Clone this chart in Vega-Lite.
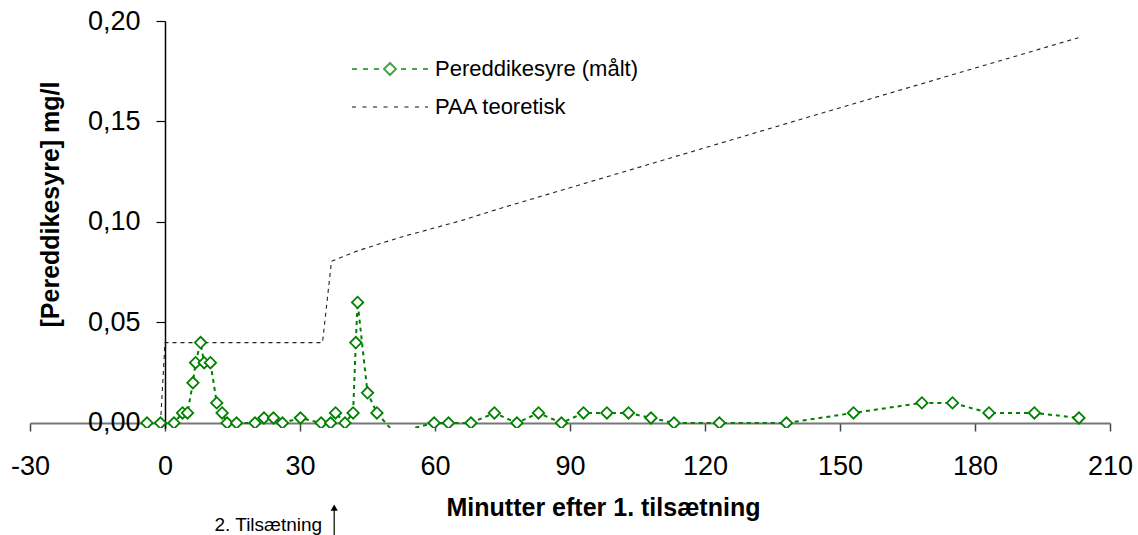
{
  "$schema": "https://vega.github.io/schema/vega-lite/v6.json",
  "width": 1080,
  "height": 407,
  "autosize": {"type": "none"},
  "padding": {"left": 30, "top": 21, "right": 28, "bottom": 107},
  "background": "white",
  "config": {
    "view": {"stroke": null},
    "font": "Liberation Sans",
    "axis": {"grid": false}
  },
  "datasets": {
    "maalinger": [
      {"serie": "Pereddikesyre (målt)", "minutter": -4, "konc": 0},
      {"serie": "Pereddikesyre (målt)", "minutter": -1, "konc": 0},
      {"serie": "Pereddikesyre (målt)", "minutter": 2, "konc": 0},
      {"serie": "Pereddikesyre (målt)", "minutter": 3.9, "konc": 0.005},
      {"serie": "Pereddikesyre (målt)", "minutter": 5, "konc": 0.005},
      {"serie": "Pereddikesyre (målt)", "minutter": 6.2, "konc": 0.02},
      {"serie": "Pereddikesyre (målt)", "minutter": 6.8, "konc": 0.03},
      {"serie": "Pereddikesyre (målt)", "minutter": 7.9, "konc": 0.04},
      {"serie": "Pereddikesyre (målt)", "minutter": 8.7, "konc": 0.03},
      {"serie": "Pereddikesyre (målt)", "minutter": 10.1, "konc": 0.03},
      {"serie": "Pereddikesyre (målt)", "minutter": 11.5, "konc": 0.01},
      {"serie": "Pereddikesyre (målt)", "minutter": 12.7, "konc": 0.005},
      {"serie": "Pereddikesyre (målt)", "minutter": 13.8, "konc": 0},
      {"serie": "Pereddikesyre (målt)", "minutter": 15.9, "konc": 0},
      {"serie": "Pereddikesyre (målt)", "minutter": 20, "konc": 0},
      {"serie": "Pereddikesyre (målt)", "minutter": 22, "konc": 0.0025},
      {"serie": "Pereddikesyre (målt)", "minutter": 24.1, "konc": 0.0025},
      {"serie": "Pereddikesyre (målt)", "minutter": 26.1, "konc": 0},
      {"serie": "Pereddikesyre (målt)", "minutter": 30.1, "konc": 0.0025},
      {"serie": "Pereddikesyre (målt)", "minutter": 34.7, "konc": 0},
      {"serie": "Pereddikesyre (målt)", "minutter": 36.8, "konc": 0},
      {"serie": "Pereddikesyre (målt)", "minutter": 37.9, "konc": 0.005},
      {"serie": "Pereddikesyre (målt)", "minutter": 40, "konc": 0},
      {"serie": "Pereddikesyre (målt)", "minutter": 41.8, "konc": 0.005},
      {"serie": "Pereddikesyre (målt)", "minutter": 42.4, "konc": 0.04},
      {"serie": "Pereddikesyre (målt)", "minutter": 42.8, "konc": 0.06},
      {"serie": "Pereddikesyre (målt)", "minutter": 45, "konc": 0.015},
      {"serie": "Pereddikesyre (målt)", "minutter": 47.1, "konc": 0.005},
      {"serie": "Pereddikesyre (målt)", "minutter": 51, "konc": -0.005},
      {"serie": "Pereddikesyre (målt)", "minutter": 59.8, "konc": 0},
      {"serie": "Pereddikesyre (målt)", "minutter": 63, "konc": 0},
      {"serie": "Pereddikesyre (målt)", "minutter": 68, "konc": 0},
      {"serie": "Pereddikesyre (målt)", "minutter": 73.2, "konc": 0.005},
      {"serie": "Pereddikesyre (målt)", "minutter": 78.2, "konc": 0},
      {"serie": "Pereddikesyre (målt)", "minutter": 83, "konc": 0.005},
      {"serie": "Pereddikesyre (målt)", "minutter": 88.1, "konc": 0},
      {"serie": "Pereddikesyre (målt)", "minutter": 93, "konc": 0.005},
      {"serie": "Pereddikesyre (målt)", "minutter": 98.2, "konc": 0.005},
      {"serie": "Pereddikesyre (målt)", "minutter": 103, "konc": 0.005},
      {"serie": "Pereddikesyre (målt)", "minutter": 108, "konc": 0.0025},
      {"serie": "Pereddikesyre (målt)", "minutter": 113.1, "konc": 0},
      {"serie": "Pereddikesyre (målt)", "minutter": 123.2, "konc": 0},
      {"serie": "Pereddikesyre (målt)", "minutter": 138.1, "konc": 0},
      {"serie": "Pereddikesyre (målt)", "minutter": 153, "konc": 0.005},
      {"serie": "Pereddikesyre (målt)", "minutter": 168.2, "konc": 0.01},
      {"serie": "Pereddikesyre (målt)", "minutter": 175, "konc": 0.01},
      {"serie": "Pereddikesyre (målt)", "minutter": 183.1, "konc": 0.005},
      {"serie": "Pereddikesyre (målt)", "minutter": 193.2, "konc": 0.005},
      {"serie": "Pereddikesyre (målt)", "minutter": 203.1, "konc": 0.0025},
      {"serie": "PAA teoretisk", "minutter": -1, "konc": 0},
      {"serie": "PAA teoretisk", "minutter": 0, "konc": 0.04},
      {"serie": "PAA teoretisk", "minutter": 35, "konc": 0.04},
      {"serie": "PAA teoretisk", "minutter": 37, "konc": 0.0805},
      {"serie": "PAA teoretisk", "minutter": 43, "konc": 0.0858},
      {"serie": "PAA teoretisk", "minutter": 52, "konc": 0.0922},
      {"serie": "PAA teoretisk", "minutter": 66, "konc": 0.1008},
      {"serie": "PAA teoretisk", "minutter": 75, "konc": 0.1071},
      {"serie": "PAA teoretisk", "minutter": 118, "konc": 0.1356},
      {"serie": "PAA teoretisk", "minutter": 141, "konc": 0.1509},
      {"serie": "PAA teoretisk", "minutter": 203, "konc": 0.1917}
    ],
    "tilsaetning": [
      {"hendelse": "2. Tilsætning", "minutter": 37.6}
    ]
  },
  "data": {"name": "maalinger"},
  "layer": [
    {
      "transform": [{"filter": "datum.serie === 'PAA teoretisk'"}],
      "mark": {"type": "line", "stroke": "#222222", "strokeWidth": 1.1, "strokeDash": [4, 4], "clip": true},
      "encoding": {
        "x": {
          "field": "minutter", "type": "quantitative",
          "scale": {"domain": [-30, 210], "nice": false, "zero": false},
          "axis": {
            "values": [-30, 0, 30, 60, 90, 120, 150, 180, 210],
            "offset": -5,
            "domainColor": "#777777", "domainWidth": 2,
            "tickColor": "#444444", "tickSize": 8, "tickWidth": 1.5,
            "labelFontSize": 27, "labelColor": "black", "labelPadding": 22,
            "labelFlush": false, "labelOverlap": false,
            "labelExpr": "(datum.value < 0 ? '-' : '') + format(abs(datum.value), 'd')",
            "title": "Minutter efter 1. tilsætning",
            "titleFontSize": 25, "titleFontWeight": "bold", "titleColor": "black",
            "titleX": 573, "titleY": 84, "titleBaseline": "middle", "titleAlign": "center"
          }
        },
        "y": {
          "field": "konc", "type": "quantitative",
          "scale": {"domain": [-0.0025, 0.2], "nice": false, "zero": false},
          "axis": {
            "values": [0, 0.05, 0.1, 0.15, 0.2],
            "offset": -135,
            "domainColor": "black", "domainWidth": 1.5,
            "tickColor": "black", "tickSize": 9, "tickWidth": 1.2,
            "labelFontSize": 27, "labelColor": "black", "labelPadding": 16,
            "labelFlush": false, "labelOverlap": false,
            "labelExpr": "replace(format(datum.value, '.2f'), '.', ',')",
            "title": "[Pereddikesyre] mg/l",
            "titleFontSize": 25, "titleFontWeight": "bold", "titleColor": "black",
            "titleX": -115, "titleY": 183, "titleBaseline": "middle", "titleAlign": "center", "titleAngle": -90
          }
        }
      }
    },
    {
      "transform": [{"filter": "datum.serie === 'Pereddikesyre (målt)'"}],
      "mark": {"type": "line", "stroke": "#008000", "strokeWidth": 2, "strokeDash": [4, 4], "clip": true},
      "encoding": {
        "x": {"field": "minutter", "type": "quantitative", "scale": {"domain": [-30, 210], "nice": false, "zero": false}},
        "y": {"field": "konc", "type": "quantitative", "scale": {"domain": [-0.0025, 0.2], "nice": false, "zero": false}}
      }
    },
    {
      "transform": [{"filter": "datum.serie === 'Pereddikesyre (målt)' && datum.konc >= 0"}],
      "mark": {"type": "point", "shape": "diamond", "filled": true, "fill": "white", "stroke": "#008000", "strokeWidth": 1.8, "size": 130, "opacity": 1, "clip": true},
      "encoding": {
        "x": {"field": "minutter", "type": "quantitative", "scale": {"domain": [-30, 210], "nice": false, "zero": false}},
        "y": {"field": "konc", "type": "quantitative", "scale": {"domain": [-0.0025, 0.2], "nice": false, "zero": false}}
      }
    },
    {
      "transform": [{"filter": "false"}],
      "mark": {"type": "point", "filled": false, "strokeWidth": 2},
      "encoding": {
        "shape": {
          "field": "serie", "type": "nominal",
          "scale": {
            "domain": ["Pereddikesyre (målt)", "PAA teoretisk"],
            "range": [
              "M-7.6,0H-6.6M-5.4,0H-4.4M-3.2,0H-2.2M2.2,0H3.2M4.4,0H5.4M6.6,0H7.6M0,-1.2L1.2,0L0,1.2L-1.2,0Z",
              "M-7.6,0H-6.8M-5.5,0H-4.7M-3.4,0H-2.6M-1.3,0H-0.5M0.8,0H1.6M2.9,0H3.7M5,0H5.8M7,0H7.6"
            ]
          },
          "legend": {
            "title": null, "orient": "none", "legendX": 349, "legendY": 37,
            "symbolSize": 100, "symbolStrokeWidth": 2,
            "labelFontSize": 22, "labelColor": "black", "labelOffset": 34,
            "rowPadding": 16, "padding": 0, "labelLimit": 400
          }
        },
        "color": {
          "field": "serie", "type": "nominal",
          "scale": {"domain": ["Pereddikesyre (målt)", "PAA teoretisk"], "range": ["#008000", "#555555"]},
          "legend": {
            "title": null, "orient": "none", "legendX": 349, "legendY": 37,
            "symbolSize": 100, "symbolStrokeWidth": 2,
            "labelFontSize": 22, "labelColor": "black", "labelOffset": 34,
            "rowPadding": 16, "padding": 0, "labelLimit": 400
          }
        }
      }
    },
    {
      "data": {"name": "tilsaetning"},
      "mark": {"type": "rule", "color": "black", "strokeWidth": 1.2, "clip": false},
      "encoding": {
        "x": {"field": "minutter", "type": "quantitative", "scale": {"domain": [-30, 210], "nice": false, "zero": false}},
        "y": {"datum": -0.0421, "type": "quantitative", "scale": {"domain": [-0.0025, 0.2], "nice": false, "zero": false}},
        "y2": {"datum": -0.058}
      }
    },
    {
      "data": {"name": "tilsaetning"},
      "mark": {"type": "point", "shape": "triangle-up", "filled": true, "color": "black", "size": 50, "opacity": 1, "clip": false},
      "encoding": {
        "x": {"field": "minutter", "type": "quantitative", "scale": {"domain": [-30, 210], "nice": false, "zero": false}},
        "y": {"datum": -0.0421, "type": "quantitative", "scale": {"domain": [-0.0025, 0.2], "nice": false, "zero": false}}
      }
    },
    {
      "data": {"name": "tilsaetning"},
      "mark": {"type": "text", "align": "right", "baseline": "middle", "fontSize": 19, "color": "black", "dx": -12, "clip": false},
      "encoding": {
        "x": {"field": "minutter", "type": "quantitative", "scale": {"domain": [-30, 210], "nice": false, "zero": false}},
        "y": {"datum": -0.051, "type": "quantitative", "scale": {"domain": [-0.0025, 0.2], "nice": false, "zero": false}},
        "text": {"field": "hendelse"}
      }
    }
  ]
}
